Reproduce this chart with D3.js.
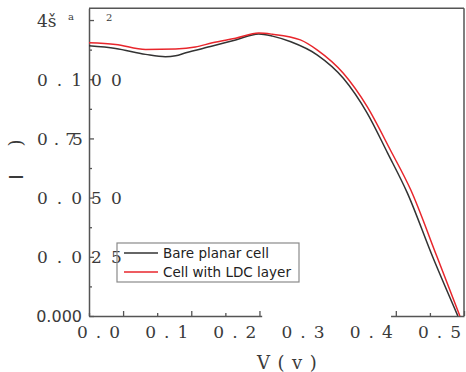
<!DOCTYPE html>
<html>
<head>
<meta charset="utf-8">
<script src="https://cdnjs.cloudflare.com/ajax/libs/d3/7.8.5/d3.min.js"></script>
<style>
  body { margin: 0; background: #fff; }
  svg { display: block; }
</style>
</head>
<body>
<svg id="chart"></svg>
<script>
// Bare planar cell (black)
const bareV = [0, 0.039, 0.083, 0.112, 0.127, 0.142, 0.181, 0.215, 0.249, 0.269, 0.296, 0.335, 0.373, 0.408, 0.438, 0.467, 0.504, 0.541];
const bareI = [0.1141, 0.1130, 0.1105, 0.1095, 0.1099, 0.1112, 0.1140, 0.1166, 0.1191, 0.1182, 0.1158, 0.1102, 0.1004, 0.0857, 0.0688, 0.0519, 0.0250, 0];

// Cell with LDC layer (red)
const ldcV = [0, 0.039, 0.083, 0.127, 0.156, 0.181, 0.215, 0.249, 0.269, 0.310, 0.335, 0.373, 0.408, 0.442, 0.472, 0.510, 0.544];
const ldcI = [0.1154, 0.1147, 0.1126, 0.1128, 0.1136, 0.1154, 0.1173, 0.1195, 0.1190, 0.1166, 0.1123, 0.1025, 0.0884, 0.0701, 0.0532, 0.0253, 0];

const seriesNames = ["Bare planar cell", "Cell with LDC layer"];
const seriesColors = ["#333333", "#e8262c"];

// tick labels as they appear (scanned text)
const xTickValues = [0, 0.1, 0.2, 0.3, 0.4, 0.5];
const xTickLabels = ["0.0", "0.1", "0.2", "0.3", "0.4", "0.5"];
const yTickValues = [0.025, 0.05, 0.1];
const yTickLabels = ["0.025", "0.050", "0.100"];

// write a label char by char with a gap between glyphs (no trailing gap)
const spaced = (sel, str, gap) => {
  str.split("").forEach((ch, i) => {
    sel.append("tspan").attr("dx", i ? gap : 0).text(ch);
  });
};

const drawChart = (selector) => {
  const width = 466;
  const height = 372;
  const svg = d3.select(selector).attr("width", width).attr("height", height);

  const xScale = d3.scaleLinear().domain([0, 0.55]).range([89, 464]);
  const yScale = d3.scaleLinear().domain([0, 0.13]).range([316, 8.2]);

  const axisColor = "#555";
  const textColor = "#3a3a3a";
  const serif = "'DejaVu Serif', serif";
  const sans = "'DejaVu Sans', sans-serif";

  // frame top / right
  svg.append("line")
    .attr("x1", xScale(0)).attr("x2", xScale(0.55))
    .attr("y1", yScale(0.13)).attr("y2", yScale(0.13))
    .attr("stroke", axisColor).attr("stroke-width", 1.5);
  svg.append("line")
    .attr("x1", xScale(0.55)).attr("x2", xScale(0.55))
    .attr("y1", yScale(0.13)).attr("y2", yScale(0))
    .attr("stroke", axisColor).attr("stroke-width", 1.5);

  // axes
  const xAxis = d3.axisBottom(xScale)
    .tickValues(d3.range(0, 0.551, 0.05))
    .tickSizeInner(-5).tickSizeOuter(0).tickFormat("");
  const gx = svg.append("g")
    .attr("transform", `translate(0, ${yScale(0)})`)
    .call(xAxis);
  gx.selectAll(".tick line").attr("y2", (d, i) => (i % 2 ? -5 : -3));

  const yAxis = d3.axisLeft(yScale)
    .tickValues(d3.range(0, 0.1251, 0.0125))
    .tickSizeInner(-5).tickSizeOuter(0).tickFormat("");
  const gy = svg.append("g")
    .attr("transform", `translate(${xScale(0)}, 0)`)
    .call(yAxis);
  gy.selectAll(".tick line").attr("x2", (d, i) => (i % 2 ? 3 : 5));

  svg.selectAll(".domain").attr("stroke", axisColor).attr("stroke-width", 1.5);
  svg.selectAll(".tick line").attr("stroke", axisColor).attr("stroke-width", 1.3);

  // scanned gap in the bottom axis
  svg.append("rect")
    .attr("x", xScale(0.254)).attr("y", yScale(0) - 7)
    .attr("width", xScale(0.443) - xScale(0.254)).attr("height", 9)
    .attr("fill", "#fff");

  // curves
  const series = [
    { v: bareV, i: bareI },
    { v: ldcV, i: ldcI }
  ];
  const line = d3.line()
    .x((d) => xScale(d[0]))
    .y((d) => yScale(d[1]))
    .curve(d3.curveMonotoneX);

  series.forEach((s, k) => {
    svg.append("path")
      .datum(s.v.map((v, j) => [v, s.i[j]]))
      .attr("d", line)
      .attr("fill", "none")
      .attr("stroke", seriesColors[k])
      .attr("stroke-width", 1.5);
  });

  // x tick labels
  svg.selectAll(".xlab")
    .data(xTickValues)
    .enter()
    .append("text")
    .attr("x", (d) => xScale(d) - 12)
    .attr("y", yScale(0) + 22)
    .attr("font-family", serif)
    .attr("font-size", 17)
    .attr("fill", textColor)
    .each(function (d, i) { spaced(d3.select(this), xTickLabels[i], 8); });

  // y tick labels
  svg.selectAll(".ylab")
    .data(yTickValues)
    .enter()
    .append("text")
    .attr("x", 37)
    .attr("y", (d) => yScale(d) + 6.5)
    .attr("font-family", serif)
    .attr("font-size", 17)
    .attr("fill", textColor)
    .each(function (d, i) { spaced(d3.select(this), yTickLabels[i], 9); });

  const l75 = svg.append("text")
    .attr("x", 37)
    .attr("y", yScale(0.075) + 6.5)
    .attr("font-family", serif)
    .attr("font-size", 17)
    .attr("fill", textColor);
  spaced(l75, "0.7", 6);
  l75.append("tspan").attr("dx", -4).text("5");

  svg.append("text")
    .attr("x", 82)
    .attr("y", yScale(0) + 6)
    .attr("text-anchor", "end")
    .attr("font-family", sans)
    .attr("font-size", 16)
    .attr("fill", textColor)
    .text("0.000");

  // top-left garbled label
  svg.append("text")
    .attr("x", 37).attr("y", yScale(0.125) + 7)
    .attr("font-family", serif).attr("font-size", 17)
    .attr("fill", textColor)
    .text("4š");
  svg.append("text")
    .attr("x", 68).attr("y", yScale(0.125))
    .attr("font-family", serif).attr("font-size", 10)
    .attr("fill", textColor)
    .text("a");
  svg.append("text")
    .attr("x", 106).attr("y", yScale(0.125) + 1)
    .attr("font-family", serif).attr("font-size", 10)
    .attr("fill", textColor)
    .text("2");

  // axis titles
  const xt = svg.append("text")
    .attr("x", 257)
    .attr("y", 369)
    .attr("font-family", serif)
    .attr("font-size", 18)
    .attr("fill", textColor);
  spaced(xt, "V(v)", 7.5);

  svg.append("text")
    .attr("transform", "translate(23, 177) rotate(-90)")
    .attr("text-anchor", "middle")
    .attr("font-family", sans)
    .attr("font-size", 20)
    .attr("fill", textColor)
    .text("I");
  svg.append("text")
    .attr("transform", "translate(22, 143) rotate(-90)")
    .attr("text-anchor", "middle")
    .attr("font-family", serif)
    .attr("font-size", 18)
    .attr("font-weight", 300)
    .attr("fill", textColor)
    .text(")");

  // legend
  const legend = svg.append("g").attr("transform", "translate(117, 243)");
  legend.append("rect")
    .attr("width", 182).attr("height", 39)
    .attr("fill", "none")
    .attr("stroke", "#8a8a8a")
    .attr("stroke-width", 1.2);
  seriesNames.forEach((name, k) => {
    const yy = 10 + k * 19;
    legend.append("line")
      .attr("x1", 7).attr("x2", 41)
      .attr("y1", yy).attr("y2", yy)
      .attr("stroke", seriesColors[k])
      .attr("stroke-width", 1.5);
    legend.append("text")
      .attr("x", 46).attr("y", yy + 5)
      .attr("font-family", sans)
      .attr("font-size", 13.5)
      .attr("fill", "#222")
      .text(name);
  });
};

drawChart("#chart");
</script>
</body>
</html>
